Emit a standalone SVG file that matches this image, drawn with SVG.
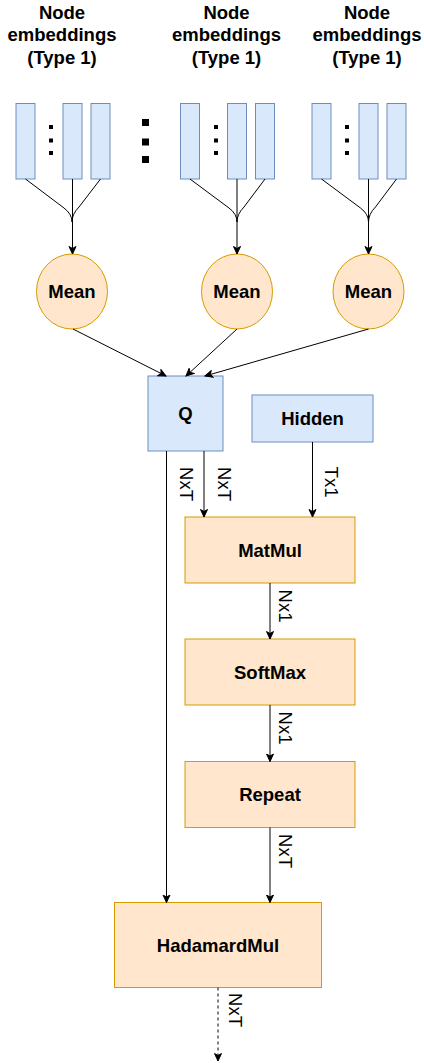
<svg xmlns="http://www.w3.org/2000/svg" width="424" height="1063" viewBox="0 0 424 1063">
<style>
.t{font-family:"Liberation Sans",Arial,sans-serif;font-size:18.5px;font-weight:bold;fill:#000;text-anchor:middle;dominant-baseline:central}
.lb{font-family:"Liberation Sans",Arial,sans-serif;font-size:18.5px;fill:#000;text-anchor:middle;dominant-baseline:central}
.ttl{font-family:"Liberation Sans",Arial,sans-serif;font-size:18.5px;font-weight:bold;fill:#000;text-anchor:middle}
.b{fill:#dae8fc;stroke:#6c8ebf;stroke-width:1}
.o{fill:#ffe6cc;stroke:#d79b00;stroke-width:1}
.e{fill:none;stroke:#000;stroke-width:1}
.a{fill:none;stroke:#000;stroke-width:1;marker-end:url(#ar)}
</style>
<defs>
<marker id="ar" markerUnits="userSpaceOnUse" markerWidth="9" markerHeight="9" refX="8" refY="4.5" orient="auto">
<path d="M0.5,1 L8,4.5 L0.5,8 L2.5,4.5 Z" fill="#000" stroke="#000" stroke-width="1"/>
</marker>
</defs>

<g id="title1"><text class="ttl" x="62" y="18.5">Node<tspan x="62" y="41">embeddings</tspan><tspan x="62" y="63.5">(Type 1)</tspan></text></g>
<g id="title2"><text class="ttl" x="226.5" y="18.5">Node<tspan x="226.5" y="41">embeddings</tspan><tspan x="226.5" y="63.5">(Type 1)</tspan></text></g>
<g id="title3"><text class="ttl" x="367" y="18.5">Node<tspan x="367" y="41">embeddings</tspan><tspan x="367" y="63.5">(Type 1)</tspan></text></g>

<g id="emb1">
<rect class="b" x="16" y="103.5" width="19" height="75.5"/>
<rect class="b" x="63" y="103.5" width="19" height="75.5"/>
<rect class="b" x="91" y="103.5" width="19" height="75.5"/>
<rect x="49" y="125" width="4" height="4" fill="#000"/>
<rect x="49" y="138.5" width="4" height="4" fill="#000"/>
<rect x="49" y="151" width="4" height="4" fill="#000"/>
</g>
<g id="dots">
<rect x="142" y="119" width="7" height="7" fill="#000"/>
<rect x="142" y="138.5" width="7" height="7" fill="#000"/>
<rect x="142" y="156" width="7" height="7" fill="#000"/>
</g>
<g id="emb2">
<rect class="b" x="180.5" y="103.5" width="19" height="75.5"/>
<rect class="b" x="227.5" y="103.5" width="19" height="75.5"/>
<rect class="b" x="255.5" y="103.5" width="19" height="75.5"/>
<rect x="214" y="125" width="4" height="4" fill="#000"/>
<rect x="214" y="138.5" width="4" height="4" fill="#000"/>
<rect x="214" y="151" width="4" height="4" fill="#000"/>
</g>
<g id="emb3">
<rect class="b" x="312" y="103.5" width="19" height="75.5"/>
<rect class="b" x="359" y="103.5" width="19" height="75.5"/>
<rect class="b" x="387" y="103.5" width="19" height="75.5"/>
<rect x="345" y="125" width="4" height="4" fill="#000"/>
<rect x="345" y="138.5" width="4" height="4" fill="#000"/>
<rect x="345" y="151" width="4" height="4" fill="#000"/>
</g>

<g id="mean1"><ellipse class="o" cx="72" cy="291.5" rx="35.5" ry="37.5"/><text class="t" x="72" y="291.5">Mean</text></g>
<g id="mean2"><ellipse class="o" cx="237" cy="291.5" rx="35.5" ry="37.5"/><text class="t" x="237" y="291.5">Mean</text></g>
<g id="mean3"><ellipse class="o" cx="368.5" cy="291.5" rx="35.5" ry="37.5"/><text class="t" x="368.5" y="291.5">Mean</text></g>

<g id="q"><rect class="b" x="148" y="376" width="75" height="75"/><text class="t" x="185.5" y="413.5">Q</text></g>
<g id="hidden"><rect class="b" x="252" y="395" width="121" height="47"/><text class="t" x="312.5" y="418.5">Hidden</text></g>
<g id="matmul"><rect class="o" x="185" y="517" width="170" height="66"/><text class="t" x="270" y="550">MatMul</text></g>
<g id="softmax"><rect class="o" x="185" y="639" width="170" height="66"/><text class="t" x="270" y="672">SoftMax</text></g>
<g id="repeat"><rect class="o" x="185" y="761.5" width="170" height="66"/><text class="t" x="270" y="794.5">Repeat</text></g>
<g id="hadamard"><rect class="o" x="114.5" y="902.5" width="207" height="85"/><text class="t" x="218" y="945">HadamardMul</text></g>

<g id="connectors">
<path class="e" d="M25.5,179 L64,208 Q72,214 72,222"/>
<path class="e" d="M100.5,179 L79,207 Q72,214 72,222"/>
<path class="a" d="M72.5,179 L72.5,254"/>
<path class="e" d="M190,179 L229,208 Q237,214 237,222"/>
<path class="e" d="M265,179 L244,207 Q237,214 237,222"/>
<path class="a" d="M237,179 L237,254"/>
<path class="e" d="M321.5,179 L360.5,208 Q368.5,214 368.5,222"/>
<path class="e" d="M396.5,179 L375.5,207 Q368.5,214 368.5,222"/>
<path class="a" d="M368.5,179 L368.5,254"/>

<path class="a" d="M73,329 L166,376"/>
<path class="a" d="M237,329 L186,376"/>
<path class="a" d="M368.5,329 L205,376"/>

<path class="a" d="M166.5,451 L166.5,902.5"/>
<path class="a" d="M204,451 L204,517"/>
<path class="a" d="M312.5,442 L312.5,517"/>
<path class="a" d="M270,583 L270,639"/>
<path class="a" d="M270,705 L270,761.5"/>
<path class="a" d="M270,827.5 L270,902.5"/>
<path class="a" d="M218,987.5 L218,1061" stroke-dasharray="3,3"/>

<text class="lb" transform="translate(186.5,484) rotate(90)">NxT</text>
<text class="lb" transform="translate(224,484) rotate(90)">NxT</text>
<text class="lb" transform="translate(331.5,482) rotate(90)">Tx1</text>
<text class="lb" transform="translate(285,606) rotate(90)">Nx1</text>
<text class="lb" transform="translate(285,728) rotate(90)">Nx1</text>
<text class="lb" transform="translate(285,851) rotate(90)">NxT</text>
<text class="lb" transform="translate(235,1010) rotate(90)">NxT</text>
</g>
</svg>
